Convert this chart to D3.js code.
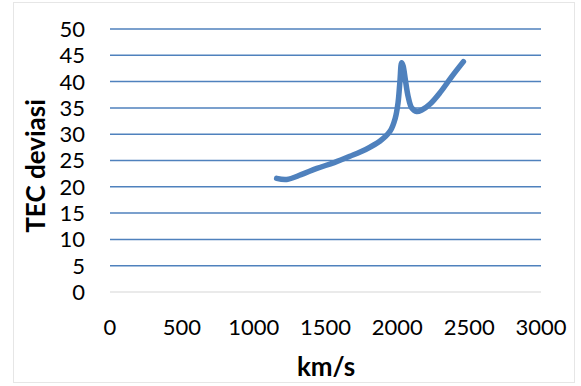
<!DOCTYPE html>
<html>
<head>
<meta charset="utf-8">
<script src="https://cdn.jsdelivr.net/npm/d3@7"></script>
<style>
  body { margin: 0; background: #fff; }
  text { font-family: Lato, 'Open Sans', sans-serif; }
</style>
</head>
<body>
<div id="chart"></div>
<script>
// values
const speed = [1160, 1230, 1330, 1440, 1560, 1670, 1780, 1880, 1950, 1985, 2005, 2018, 2030, 2040, 2055, 2075, 2100, 2135, 2170, 2230, 2300, 2380, 2460]
const tec = [21.6, 21.4, 22.3, 23.5, 24.6, 25.8, 27.1, 28.7, 30.6, 33.0, 36.0, 40.0, 43.6, 43.0, 40.5, 37.2, 35.0, 34.3, 34.6, 35.8, 38.0, 41.0, 43.8]
const xTicks = [0, 500, 1000, 1500, 2000, 2500, 3000]
const yTicks = [0, 5, 10, 15, 20, 25, 30, 35, 40, 45, 50]

const width = 581, height = 386
const margin = { left: 110, right: 40, top: 29, bottom: 94 }

const svg = d3.select('#chart')
  .append('svg')
  .attr('width', width)
  .attr('height', height)

// outer chart border
svg.append('rect')
  .attr('x', 13.5).attr('y', 2.5)
  .attr('width', 561).attr('height', 380)
  .attr('fill', '#fff')
  .attr('stroke', '#e6e6e6')

const x = d3.scaleLinear().domain([0, 3000]).range([margin.left, width - margin.right])
const y = d3.scaleLinear().domain([0, 50]).range([height - margin.bottom, margin.top])

// gridlines
svg.append('g')
  .selectAll('line')
  .data(yTicks.slice(1))
  .enter()
  .append('line')
  .attr('x1', x(0)).attr('x2', x(3000))
  .attr('y1', d => y(d)).attr('y2', d => y(d))
  .attr('stroke', '#4f81bd')
  .attr('stroke-width', 1.5)

// bottom axis line
svg.append('line')
  .attr('x1', x(0)).attr('x2', x(3000))
  .attr('y1', y(0)).attr('y2', y(0))
  .attr('stroke', '#e3e3e3')
  .attr('stroke-width', 1.5)

// y tick labels
svg.append('g')
  .attr('text-anchor', 'end')
  .selectAll('text')
  .data(yTicks)
  .enter()
  .append('text')
  .attr('x', 85)
  .attr('y', d => y(d))
  .attr('dy', '0.36em')
  .attr('font-size', 22)
  .attr('fill', '#000')
  .text(d => d)

// x tick labels
svg.append('g')
  .attr('text-anchor', 'middle')
  .selectAll('text')
  .data(xTicks)
  .enter()
  .append('text')
  .attr('x', d => x(d))
  .attr('y', 335)
  .attr('font-size', 22)
  .attr('fill', '#000')
  .text(d => d)

// axis titles
svg.append('text')
  .attr('text-anchor', 'middle')
  .attr('transform', 'translate(45,166)rotate(-90)')
  .attr('font-size', 26)
  .attr('font-weight', 'bold')
  .text('TEC deviasi')

svg.append('text')
  .attr('text-anchor', 'middle')
  .attr('x', 326)
  .attr('y', 376)
  .attr('font-size', 26)
  .attr('font-weight', 'bold')
  .text('km/s')

// data line
const pts = speed.map((s, i) => [s, tec[i]])
const line = d3.line()
  .x(d => x(d[0]))
  .y(d => y(d[1]))
  .curve(d3.curveCatmullRom.alpha(0.5))

svg.append('path')
  .datum(pts)
  .attr('d', line)
  .attr('fill', 'none')
  .attr('stroke', '#4f81bd')
  .attr('stroke-width', 5.5)
  .attr('stroke-linecap', 'round')
  .attr('stroke-linejoin', 'round')
</script>
</body>
</html>
